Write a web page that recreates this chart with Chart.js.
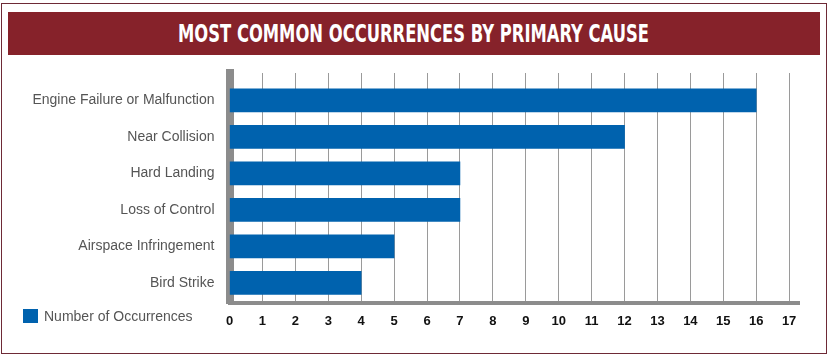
<!DOCTYPE html>
<html>
<head>
<meta charset="utf-8">
<script src="https://cdn.jsdelivr.net/npm/chart.js@4.4.1/dist/chart.umd.min.js"></script>
<style>
  html, body { margin: 0; padding: 0; background: #fff; }
  #wrap { position: relative; width: 830px; height: 357px; overflow: hidden; background: #fff; }
  #frame { position: absolute; left: 1px; top: 3px; width: 824px; height: 349px; border: 1px solid #6e2a36; box-sizing: content-box; }
  #titlebar { position: absolute; left: 8px; top: 12px; width: 812px; height: 43px; background: #86222a; }
  #title { position: absolute; left: 0; top: 0; width: 812px; height: 43px; line-height: 43px; text-align: center;
           color: #fff; font-family: "Liberation Sans Narrow", "DejaVu Sans Condensed", sans-serif; font-weight: bold; font-size: 25px; white-space: nowrap; }
  #title span { display: inline-block; transform-origin: center; }
  #chartbox { position: absolute; left: 0; top: 0; width: 830px; height: 357px; }
  #legend { position: absolute; left: 23px; top: 309px; font-family: "Liberation Sans", Arial, sans-serif; font-size: 14px; color: #555; white-space: nowrap; }
  #legend .sw { display: inline-block; width: 15px; height: 14px; vertical-align: top; margin-right: 6px; }
  #legend .tx { display: inline-block; line-height: 15px; vertical-align: top; }
</style>
</head>
<body>
<div id="wrap">
  <div id="frame"></div>
  <div id="titlebar"><div id="title"><span id="titletext">MOST COMMON OCCURRENCES BY PRIMARY CAUSE</span></div></div>
  <div id="chartbox"><canvas id="c" width="830" height="357"></canvas></div>
  <div id="legend"></div>
</div>
<script>
const categories = ["Engine Failure or Malfunction", "Near Collision", "Hard Landing", "Loss of Control", "Airspace Infringement", "Bird Strike"];
const occurrences = [16, 12, 7, 7, 5, 4];
const seriesName = "Number of Occurrences";
const xTicks = [0,1,2,3,4,5,6,7,8,9,10,11,12,13,14,15,16,17];
const titleText = "MOST COMMON OCCURRENCES BY PRIMARY CAUSE";

document.getElementById('titletext').textContent = titleText;
(function(){
  const s = document.getElementById('titletext');
  const w = s.getBoundingClientRect().width;
  s.style.transform = 'scaleX(' + (471 / w) + ')';
})();

const barColor = '#0062ae';
const axisGray = '#8c8c8c';

const chart = new Chart(document.getElementById('c'), {
  type: 'bar',
  data: {
    datasets: [{
      label: seriesName,
      data: occurrences.map((v, i) => ({ x: v, y: i })),
      backgroundColor: barColor,
      borderWidth: 0,
      barThickness: 23
    }]
  },
  options: {
    indexAxis: 'y',
    responsive: false,
    animation: false,
    layout: { padding: { top: 73, right: 31, bottom: 0, left: 0 } },
    plugins: { legend: { display: false }, tooltip: { enabled: false }, title: { display: false } },
    scales: {
      x: {
        type: 'linear',
        min: 0,
        max: 17.3,
        afterFit: (s) => { s.height = 54; },
        afterBuildTicks: (s) => { s.ticks = xTicks.map(v => ({ value: v })); },
        ticks: {
          stepSize: 1,
          includeBounds: false,
          padding: 11,
          color: '#111',
          font: { family: '"Liberation Sans", Arial, sans-serif', size: 13, weight: 'bold' },
          maxRotation: 0,
          autoSkip: false
        },
        grid: { display: true, drawTicks: false, color: '#9a9a9a', lineWidth: 1 },
        border: { display: true, color: axisGray, width: 4 }
      },
      y: {
        type: 'linear',
        reverse: true,
        offset: false,
        bounds: 'data',
        min: -0.75,
        max: 5.55,
        afterFit: (s) => { s.width = 229.5; },
        afterBuildTicks: (s) => { s.ticks = categories.map((c, i) => ({ value: i })); },
        ticks: {
          padding: 15,
          color: '#555',
          font: { family: '"Liberation Sans", Arial, sans-serif', size: 14 },
          callback: (v) => categories[v]
        },
        grid: { display: false, drawTicks: false },
        border: { display: true, color: axisGray, width: 8 }
      }
    }
  }
});

const lg = document.getElementById('legend');
chart.data.datasets.forEach(ds => {
  const sw = document.createElement('span'); sw.className = 'sw'; sw.style.background = ds.backgroundColor;
  const tx = document.createElement('span'); tx.className = 'tx'; tx.textContent = ds.label;
  lg.appendChild(sw); lg.appendChild(tx);
});
</script>
</body>
</html>
